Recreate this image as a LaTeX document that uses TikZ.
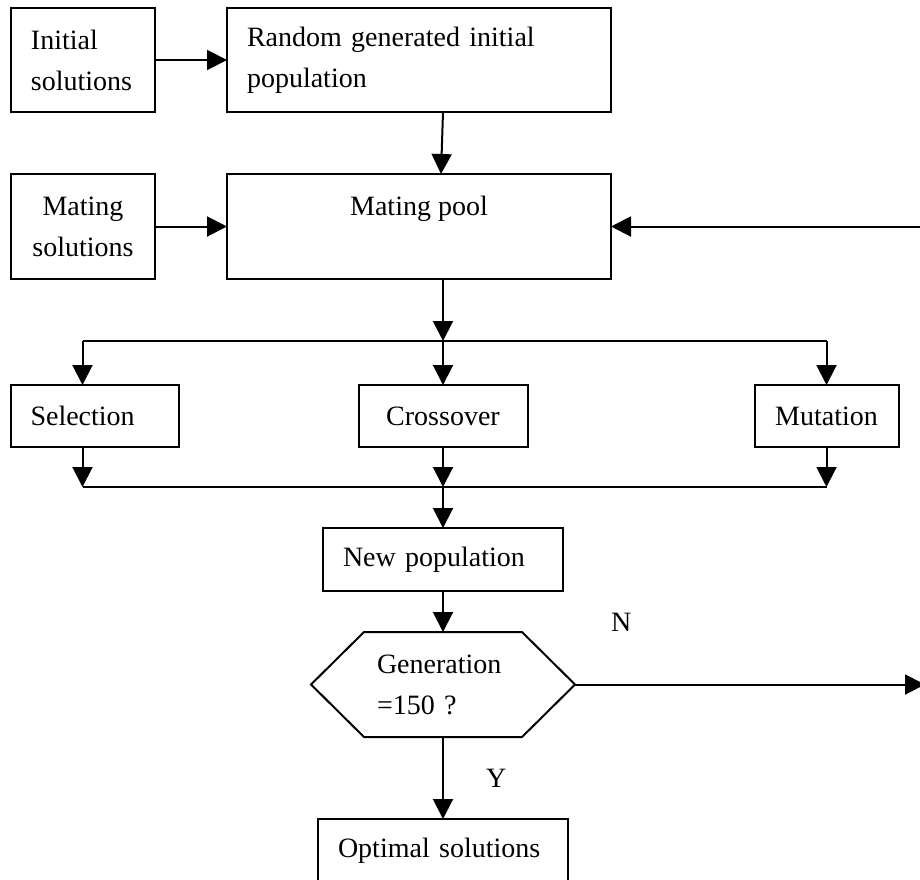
\documentclass[tikz,border=0pt]{standalone}
\usepackage{fontspec}
\setmainfont{Liberation Serif}
\usepackage{tikz}
\usetikzlibrary{positioning, arrows.meta}

\begin{document}
\begin{tikzpicture}[
    font=\fontsize{14}{20.5}\selectfont,
    box/.style={draw, line width=1pt, inner xsep=10pt, inner ysep=0pt, outer sep=0pt},
    arr/.style={line width=1pt, -{Triangle[length=10pt, width=10pt]}},
    line/.style={line width=1pt}
  ]
  \useasboundingbox (0,0) rectangle (460pt,-439.5pt);
  \coordinate (redge) at (460pt,0);

  % input and pool
  \node[box, text width=52pt, minimum height=52pt] (init) at (41.5pt,-30pt) {Initial\\solutions};
  \node[box, text width=172pt, minimum height=52pt, right=36pt of init] (random) {Random generated initial\\population};
  \node[box, text width=52pt, minimum height=52.5pt, align=center, below=31pt of init] (mating) {Mating\\solutions};
  \node[box, minimum width=192pt, minimum height=52.5pt, text height=9pt, text depth=20.5pt, below=31pt of random] (pool) {Mating pool};

  % operators
  \node[box, minimum width=84.5pt, minimum height=31pt, below=53pt of pool, xshift=12pt] (cross) {Crossover};
  \node[box, text width=64pt, minimum height=31pt, left=90pt of cross] (sel) {Selection};
  \node[box, minimum width=72pt, minimum height=31pt, right=113.5pt of cross] (mut) {Mutation};

  % output
  \node[box, text width=100pt, minimum height=31.5pt, below=40.5pt of cross] (newpop) {New population};
  \node[text width=66pt, inner xsep=33pt, inner ysep=0pt, outer sep=0pt, minimum height=52.5pt, below=20.5pt of newpop] (gen) {Generation\\=150 ?};
  \node[box, text width=105pt, minimum height=32pt, below=41pt of gen] (opt) {Optimal solutions};

  % hexagon round the test
  \draw[line width=1pt] ([xshift=26.5pt]gen.north west) -- ([xshift=-26.5pt]gen.north east) -- (gen.east)
    -- ([xshift=-26.5pt]gen.south east) -- ([xshift=26.5pt]gen.south west) -- (gen.west) -- cycle;

  % connectors
  \draw[arr] (init) -- (random);
  \draw[arr] (mating) -- (pool);
  \draw[arr] ([xshift=12pt]random.south) -- ([xshift=11pt]pool.north);
  \draw[arr] (pool.east -| redge) -- (pool.east);

  \path (pool.south -| cross.north) ++(0,-31pt) coordinate (fork);
  \path (cross.south) ++(0,-20pt) coordinate (join);
  \coordinate (selx) at ([xshift=-6pt]sel.north);

  \draw[arr] (pool.south -| fork) -- (fork);
  \draw[line] (selx |- fork) -- (mut.north |- fork);
  \draw[arr] (selx |- fork) -- (selx);
  \draw[arr] (fork) -- (cross.north);
  \draw[arr] (mut.north |- fork) -- (mut.north);

  \draw[arr] (selx |- sel.south) -- (selx |- join);
  \draw[arr] (cross.south) -- (join);
  \draw[arr] (mut.south) -- (mut.south |- join);
  \draw[line] (selx |- join) -- (mut.south |- join);

  \draw[arr] (join) -- (newpop.north);
  \draw[arr] (newpop) -- (gen.north);
  \draw[arr] (gen.south) -- node[right=21pt, inner sep=0pt] {Y} (opt.north);
  \draw[arr] (gen.east) -- node[pos=0, above right=26pt and 17.5pt, inner sep=0pt] {N} ([xshift=2.5pt]gen.east -| redge);
\end{tikzpicture}
\end{document}
